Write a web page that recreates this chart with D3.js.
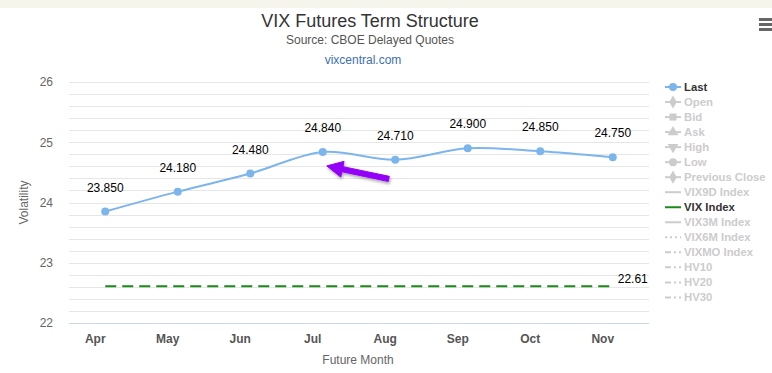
<!DOCTYPE html>
<html>
<head>
<meta charset="utf-8">
<script src="https://cdn.jsdelivr.net/npm/d3@7"></script>
<style>
  html, body { margin: 0; padding: 0; background: #fff; }
  svg { display: block; font-family: "Liberation Sans", Arial, sans-serif; }
</style>
</head>
<body>
<script>
// chart data
const months = ['Apr', 'May', 'Jun', 'Jul', 'Aug', 'Sep', 'Oct', 'Nov'];
const lastValues = [23.85, 24.18, 24.48, 24.84, 24.71, 24.90, 24.85, 24.75];
const vixIndexValue = 22.61;
const yTickValues = [22, 23, 24, 25, 26];
const legendNames = ['Last', 'Open', 'Bid', 'Ask', 'High', 'Low', 'Previous Close',
  'VIX9D Index', 'VIX Index', 'VIX3M Index', 'VIX6M Index', 'VIXMO Index', 'HV10', 'HV20', 'HV30'];
const legendVisible = ['Last', 'VIX Index'];

const width = 772;
const height = 373;
const marginTop = 82;
const marginBottom = 50;
const marginLeft = 69;
const plotRight = 649;

const data = months.map((m, i) => ({ month: m, value: lastValues[i] }));

const x = d3.scaleBand()
  .domain(months)
  .range([marginLeft, plotRight]);

const y = d3.scaleLinear()
  .domain([22, 26])
  .range([height - marginBottom, marginTop]);

const cx = (m) => x(m) + x.bandwidth() / 2;

const svg = d3.select('body').append('svg')
  .attr('width', width)
  .attr('height', height)
  .attr('viewBox', [0, 0, width, height]);

// top strip
svg.append('rect')
  .attr('width', width).attr('height', 8)
  .attr('fill', '#f6f5ec');

// titles
svg.append('text')
  .attr('x', 370).attr('y', 27)
  .attr('text-anchor', 'middle')
  .attr('fill', '#333')
  .style('font-size', '18px')
  .text('VIX Futures Term Structure');

svg.append('text')
  .attr('x', 370).attr('y', 44)
  .attr('text-anchor', 'middle')
  .attr('fill', '#555')
  .style('font-size', '12px')
  .text('Source: CBOE Delayed Quotes');

svg.append('text')
  .attr('x', 363).attr('y', 64)
  .attr('text-anchor', 'middle')
  .attr('fill', '#3d6fb0')
  .style('font-size', '12px')
  .text('vixcentral.com');

// menu icon
svg.append('g')
  .attr('fill', '#666')
  .selectAll('rect')
  .data([0, 1, 2])
  .join('rect')
  .attr('x', 759).attr('width', 13)
  .attr('y', (d) => 18 + d * 5).attr('height', 3);

// grid lines (major + minor)
svg.append('g')
  .selectAll('line')
  .data(y.ticks(20))
  .join('line')
  .attr('x1', marginLeft).attr('x2', plotRight)
  .attr('y1', (d) => Math.round(y(d)) + 0.5)
  .attr('y2', (d) => Math.round(y(d)) + 0.5)
  .attr('stroke', (d) => d === 22 ? '#ccd6eb' : '#e6e6e6');

// y axis
const gY = svg.append('g')
  .attr('transform', `translate(${marginLeft},0)`)
  .call(d3.axisLeft(y).tickValues(yTickValues).tickFormat(d3.format('d')).tickSize(0).tickPadding(16));
gY.select('.domain').remove();
gY.selectAll('text')
  .attr('fill', '#666')
  .style('font-size', '12px')
  .style('font-family', 'Liberation Sans, Arial, sans-serif');

svg.append('text')
  .attr('transform', `translate(28,${y(24)}) rotate(-90)`)
  .attr('text-anchor', 'middle')
  .attr('fill', '#666')
  .style('font-size', '12px')
  .text('Volatility');

// x axis
const gX = svg.append('g')
  .attr('transform', `translate(0,${height - marginBottom})`)
  .call(d3.axisBottom(x).tickSize(0).tickPadding(11));
gX.select('.domain').remove();
gX.selectAll('text')
  .attr('dx', -10)
  .attr('fill', '#555')
  .style('font-size', '12px')
  .style('font-weight', 'bold')
  .style('font-family', 'Liberation Sans, Arial, sans-serif');

svg.append('text')
  .attr('x', 358).attr('y', 364)
  .attr('text-anchor', 'middle')
  .attr('fill', '#666')
  .style('font-size', '12px')
  .text('Future Month');

// VIX index dashed line
const xFirst = cx(months[0]);
const xLast = cx(months[months.length - 1]);
svg.append('line')
  .attr('x1', xFirst).attr('x2', xLast)
  .attr('y1', y(vixIndexValue)).attr('y2', y(vixIndexValue))
  .attr('stroke', '#1a8c1a')
  .attr('stroke-width', 2)
  .attr('stroke-dasharray', '11,6');

svg.append('text')
  .attr('x', xLast + 5).attr('y', y(vixIndexValue) - 3)
  .attr('fill', '#000')
  .style('font-size', '12px')
  .text(vixIndexValue.toFixed(2));

// Last series
const line = d3.line()
  .x((d) => cx(d.month))
  .y((d) => y(d.value))
  .curve(d3.curveCatmullRom.alpha(0.5));

svg.append('path')
  .datum(data)
  .attr('fill', 'none')
  .attr('stroke', '#7cb5ec')
  .attr('stroke-width', 2)
  .attr('d', line);

svg.append('g')
  .attr('fill', '#7cb5ec')
  .selectAll('circle')
  .data(data)
  .join('circle')
  .attr('cx', (d) => cx(d.month))
  .attr('cy', (d) => y(d.value))
  .attr('r', 4);

svg.append('g')
  .selectAll('text')
  .data(data)
  .join('text')
  .attr('x', (d) => cx(d.month))
  .attr('y', (d) => y(d.value) - 20)
  .attr('text-anchor', 'middle')
  .attr('fill', '#000')
  .style('font-size', '12px')
  .text((d) => d.value.toFixed(3));

// purple arrow annotation pointing at Jul
const defs = svg.append('defs');
const f = defs.append('filter').attr('id', 'shadow').attr('x', '-20%').attr('y', '-50%')
  .attr('width', '140%').attr('height', '200%');
f.append('feDropShadow').attr('dx', 1).attr('dy', 2).attr('stdDeviation', 1.5)
  .attr('flood-color', '#000').attr('flood-opacity', 0.35);

const jx = cx('Jul');
const jy = y(lastValues[3]);
const tip = [jx + 4, jy + 14];
const tail = [jx + 66, jy + 27];
const ang = Math.atan2(tail[1] - tip[1], tail[0] - tip[0]);
const ux = Math.cos(ang), uy = Math.sin(ang);
const headLen = 16, headW = 8, shaftW = 2.6;
const base = [tip[0] + ux * headLen, tip[1] + uy * headLen];
const px = -uy, py = ux;
const arrowPts = [
  tip,
  [base[0] + px * headW, base[1] + py * headW],
  [base[0] + px * shaftW, base[1] + py * shaftW],
  [tail[0] + px * shaftW, tail[1] + py * shaftW],
  [tail[0] - px * shaftW, tail[1] - py * shaftW],
  [base[0] - px * shaftW, base[1] - py * shaftW],
  [base[0] - px * headW, base[1] - py * headW]
];
svg.append('path')
  .attr('d', 'M' + arrowPts.map((p) => p.join(',')).join('L') + 'Z')
  .attr('fill', '#9400f7')
  .attr('stroke', '#9400f7')
  .attr('stroke-width', 1)
  .attr('stroke-linejoin', 'round')
  .attr('filter', 'url(#shadow)');

// legend
const symbols = {
  'Last': d3.symbolCircle, 'Open': d3.symbolDiamond, 'Bid': d3.symbolSquare,
  'Ask': d3.symbolTriangle, 'High': d3.symbolTriangle, 'Low': d3.symbolCircle,
  'Previous Close': d3.symbolDiamond
};
const dashes = {
  'VIX6M Index': '2,3', 'VIXMO Index': '6,3,2,3', 'HV10': '6,3,2,3',
  'HV20': '6,3,2,3', 'HV30': '6,3,2,3'
};

const legend = svg.append('g')
  .selectAll('g')
  .data(legendNames)
  .join('g')
  .attr('transform', (d, i) => `translate(665,${87 + i * 15.03})`);

legend.append('line')
  .attr('x1', 0).attr('x2', 16)
  .attr('stroke', (d) => d === 'Last' ? '#7cb5ec' : d === 'VIX Index' ? '#1a8c1a' : '#ccc')
  .attr('stroke-width', 2)
  .attr('stroke-dasharray', (d) => dashes[d] || null);

legend.filter((d) => symbols[d])
  .append('path')
  .attr('transform', (d) => `translate(8,0)${d === 'High' ? ' rotate(180)' : ''}`)
  .attr('d', (d) => d3.symbol(symbols[d], 50)())
  .attr('fill', (d) => d === 'Last' ? '#7cb5ec' : '#ccc');

legend.append('text')
  .attr('x', 19).attr('dy', '0.35em')
  .attr('fill', (d) => legendVisible.includes(d) ? '#333' : '#ccc')
  .style('font-size', '11.3px')
  .style('font-weight', 'bold')
  .text((d) => d);
</script>
</body>
</html>
